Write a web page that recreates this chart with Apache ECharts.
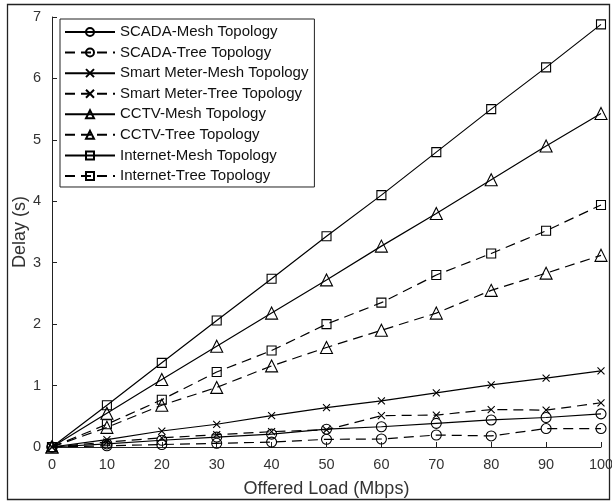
<!DOCTYPE html>
<html><head><meta charset="utf-8">
<script src="https://cdn.jsdelivr.net/npm/echarts@6/dist/echarts.min.js"></script>
<style>html,body{margin:0;padding:0;background:#fff}#c{width:612px;height:502px}</style>
</head><body><div id="c"></div>
<script>
const loads = [0,10,20,30,40,50,60,70,80,90,100];
const yTicks = [0,1,2,3,4,5,6,7];
const scadaMesh   = [0,0.05,0.11,0.16,0.21,0.29,0.33,0.385,0.44,0.48,0.54];
const scadaTree   = [0,0.02,0.04,0.06,0.08,0.125,0.13,0.195,0.18,0.30,0.30];
const smMesh      = [0,0.12,0.26,0.37,0.51,0.64,0.75,0.88,1.01,1.12,1.24];
const smTree      = [0,0.08,0.15,0.2,0.25,0.28,0.51,0.52,0.61,0.60,0.72];
const cctvMesh    = [0,0.55,1.1,1.64,2.18,2.72,3.27,3.8,4.35,4.9,5.43];
const cctvTree    = [0,0.32,0.68,0.97,1.32,1.62,1.9,2.18,2.55,2.83,3.12];
const netMesh     = [0,0.68,1.37,2.06,2.74,3.43,4.1,4.8,5.5,6.18,6.88];
const netTree     = [0,0.37,0.77,1.22,1.57,2.0,2.35,2.8,3.15,3.52,3.94];
const names = ['SCADA-Mesh Topology','SCADA-Tree Topology','Smart Meter-Mesh Topology','Smart Meter-Tree Topology','CCTV-Mesh Topology','CCTV-Tree Topology','Internet-Mesh Topology','Internet-Tree Topology'];
const values = [scadaMesh,scadaTree,smMesh,smTree,cctvMesh,cctvTree,netMesh,netTree];
const crossPath = 'path://M0,0L10,10M0,10L10,0';
const symbols = ['circle','circle',crossPath,crossPath,'triangle','triangle','rect','rect'];
const sizes = [10,10,7,7,12,12,9,9];
const dashed = [false,true,false,true,false,true,false,true];
const FONT = 'Liberation Sans, Arial, sans-serif';

const series = names.map((n,i)=>({
  name:n, type:'line',
  data: loads.map((x,j)=>[x, values[i][j]]),
  symbol: symbols[i], symbolSize: sizes[i], showSymbol:true,
  lineStyle:{color:'#000', width:1.2, type: dashed[i] ? [10,6] : 'solid'},
  itemStyle:{color:'rgba(0,0,0,0)', borderColor:'#000', borderWidth:1.1},
  emphasis:{disabled:true}, animation:false, z: 2
}));

const chart = echarts.init(document.getElementById('c'), null, {renderer:'canvas'});
chart.setOption({
  animation:false,
  backgroundColor:'#fff',
  textStyle:{fontFamily:FONT},
  graphic:[{type:'rect', shape:{x:7.5,y:4.5,width:602,height:495}, style:{fill:'none', stroke:'#222', lineWidth:1.3}, z:-1, silent:true}],
  grid:{left:52, right:11, top:17, bottom:55, containLabel:false, outerBoundsMode:'none'},
  xAxis:{type:'value', min:0, max:100, interval:10,
    name:'Offered Load (Mbps)', nameLocation:'middle', nameGap:33, nameMoveOverlap:false,
    nameTextStyle:{fontSize:18, color:'#333', fontFamily:FONT},
    axisLine:{lineStyle:{color:'#222', width:1}},
    axisTick:{inside:true, length:5, lineStyle:{color:'#222'}},
    axisLabel:{fontSize:14.5, color:'#333', margin:10, fontFamily:FONT},
    splitLine:{show:false}},
  yAxis:{type:'value', min:0, max:7, interval:1,
    name:'Delay (s)', nameLocation:'middle', nameGap:23, nameMoveOverlap:false,
    nameTextStyle:{fontSize:18, color:'#333', fontFamily:FONT},
    axisLine:{show:true, lineStyle:{color:'#222', width:1}},
    axisTick:{show:true, inside:true, length:5, lineStyle:{color:'#222'}},
    axisLabel:{fontSize:14.5, color:'#333', margin:11, fontFamily:FONT, formatter: v => yTicks.includes(v) ? String(v) : ''},
    splitLine:{show:false}},
  legend:{show:true, orient:'vertical', left:60, top:19, data:names,
    itemWidth:50, itemHeight:10, itemGap:4.57,
    padding:[5,6,3,4],
    backgroundColor:'#fff', borderColor:'#222', borderWidth:1,
    textStyle:{fontSize:15, color:'#111', lineHeight:16, fontFamily:FONT}},
  series: series
});
</script></body></html>
